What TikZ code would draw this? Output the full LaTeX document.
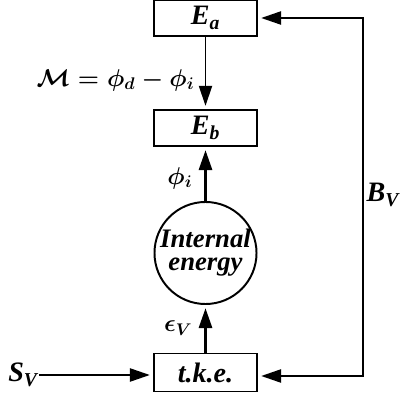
\documentclass[tikz,border=0pt]{standalone}
\usepackage{fontspec}
\setmainfont{Liberation Serif}
\usepackage{tikz}
\usetikzlibrary{arrows.meta,positioning}

\newcommand{\tsub}[2]{#1\textsubscript{#2}}

\begin{document}
\begin{tikzpicture}[x=0.025cm, y=-0.025cm,
  font=\fontsize{20}{17}\selectfont\bfseries\itshape\boldmath,
  box/.style={draw, line width=1.4pt, minimum width=2.575cm, minimum height=0.9cm, inner sep=1pt},
  flow/.style={line width=1.4pt, -{Triangle[length=0.5cm, width=0.33cm]}, shorten >=0.08cm},
  lbl/.style={inner sep=1pt},
  mlbl/.style={inner sep=1pt, font=\fontsize{17.28}{18}\selectfont\boldmath}]
\useasboundingbox (0,0) rectangle (400,398);

% ---------- energy boxes ----------
\node[box] (Ea) at (205.5,18) {\tsub{E}{a}};
\node[box] (Eb) at (205.5,128) {\tsub{E}{b}};
\node[draw, circle, line width=1.4pt, minimum size=2.55cm, inner sep=-4pt, align=center,
  font=\fontsize{19}{16.5}\selectfont\bfseries\itshape] (ie) at (205.5,253) {Internal\\energy};
\node[box, minimum height=0.95cm] (tke) at (205.5,372.5) {t.k.e.};

% ---------- flows ----------
\draw[flow, line width=1.1pt] (Ea.south) -- (Eb.north);
\node[mlbl, anchor=east] (M) at (196,80) {$\mathcal{M}=\phi_d-\phi_i$};
\draw[flow, line width=1.8pt] (ie.north) -- (Eb.south);
\node[mlbl, anchor=east] (phi) at (194,178) {$\phi_i$};
\draw[flow, line width=1.8pt] (tke.north) -- (ie.south);
\node[mlbl, anchor=east] (eps) at (194,328) {$\epsilon_V$};

% ---------- source and feedback ----------
\node[lbl] (SV) at (23,375) {\tsub{S}{V}};
\draw[flow] (SV.east |- 0,375) -- (tke.west |- 0,375);
\draw[flow, {Triangle[length=0.5cm, width=0.33cm]}-{Triangle[length=0.5cm, width=0.33cm]},
  shorten <=0.08cm] (Ea.east) -- ++(105,0) coordinate (tr) |- (tke.east |- 0,376);
\node[lbl, anchor=west] (BV) at (365,195) {\tsub{B}{V}};
\end{tikzpicture}
\end{document}
